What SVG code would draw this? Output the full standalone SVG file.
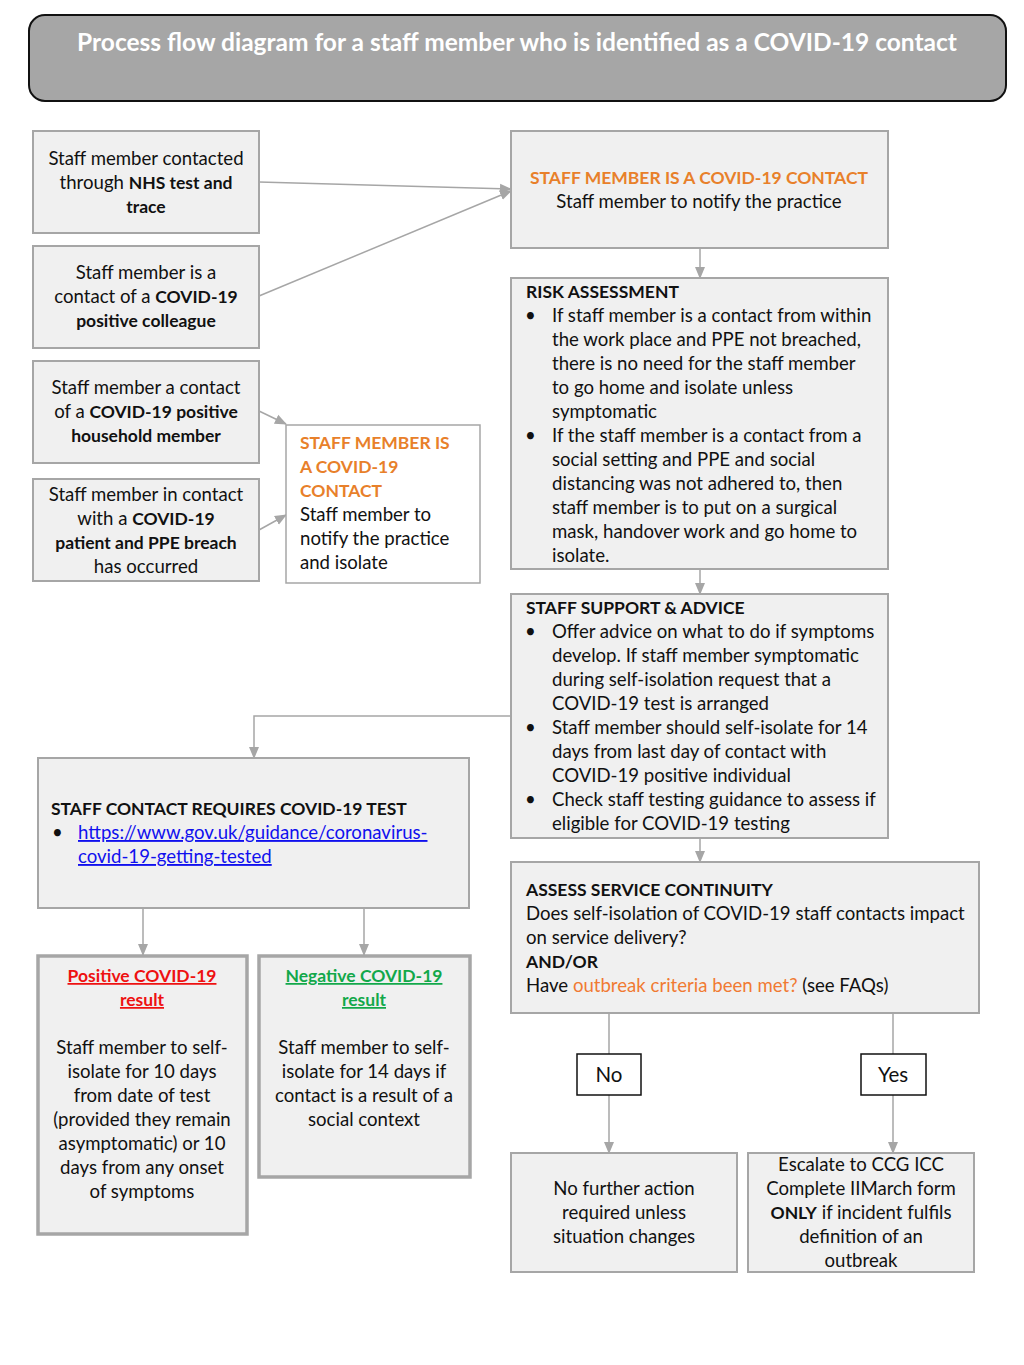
<svg xmlns="http://www.w3.org/2000/svg" width="1024" height="1365" viewBox="0 0 1024 1365">
<style>
text{font-family:Lato,"Open Sans","Liberation Sans",sans-serif;font-size:18.6px;fill:#111}
.c{text-anchor:middle}
.b{font-weight:bold;font-size:17.5px}
.or{fill:#e8802a;font-weight:bold;font-size:17.5px}
.box{fill:#f0f0f0;stroke:#a6a6a6;stroke-width:2}
.wbox{fill:#fff;stroke:#a6a6a6;stroke-width:1.5}
.thick{fill:#f0f0f0;stroke:#a6a6a6;stroke-width:3.5}
.yn{fill:#fff;stroke:#111;stroke-width:1.5}
.con{stroke:#a6a6a6;stroke-width:1.5;fill:none}
.arr{marker-end:url(#ah)}
</style>
<defs>
<marker id="ah" markerUnits="userSpaceOnUse" markerWidth="12" markerHeight="12" refX="11" refY="6" orient="auto" viewBox="0 0 12 12">
<path d="M0,1 L12,6 L0,11 z" fill="#a6a6a6"/>
</marker>
</defs>
<rect width="1024" height="1365" fill="#fff"/>

<g id="header">
<rect x="29" y="15" width="977" height="86" rx="16" fill="#a6a6a6" stroke="#111" stroke-width="2"/>
<text x="517" y="51" class="c" style="fill:#fff;font-size:24.5px;font-weight:bold">Process flow diagram for a staff member who is identified as a COVID-19 contact</text>
</g>

<g id="connectors">
<path class="con arr" d="M259,182 L511,189"/>
<path class="con arr" d="M259,296 L511,191"/>
<path class="con arr" d="M259,411 L286,424"/>
<path class="con arr" d="M259,530 L286,515"/>
<path class="con arr" d="M700,248 L700,278"/>
<path class="con arr" d="M700,569 L700,594"/>
<path class="con arr" d="M511,716 L254,716 L254,758"/>
<path class="con arr" d="M143,908 L143,955"/>
<path class="con arr" d="M364,908 L364,955"/>
<path class="con arr" d="M700,838 L700,862"/>
<path class="con" d="M609,1013 L609,1054"/>
<path class="con arr" d="M609,1095 L609,1153"/>
<path class="con" d="M893,1013 L893,1054"/>
<path class="con arr" d="M893,1095 L893,1153"/>
</g>

<g id="nhs-test-trace">
<rect class="box" x="33" y="131" width="226" height="102"/>
<text x="146" y="165" class="c">Staff member contacted</text>
<text x="146" y="189" class="c">through <tspan class="b">NHS test and</tspan></text>
<text x="146" y="213" class="c b">trace</text>
</g>

<g id="positive-colleague">
<rect class="box" x="33" y="246" width="226" height="102"/>
<text x="146" y="279" class="c">Staff member is a</text>
<text x="146" y="303" class="c">contact of a <tspan class="b">COVID-19</tspan></text>
<text x="146" y="327" class="c b">positive colleague</text>
</g>

<g id="household-member">
<rect class="box" x="33" y="361" width="226" height="102"/>
<text x="146" y="394" class="c">Staff member a contact</text>
<text x="146" y="418" class="c">of a <tspan class="b">COVID-19 positive</tspan></text>
<text x="146" y="442" class="c b">household member</text>
</g>

<g id="patient-ppe-breach">
<rect class="box" x="33" y="479" width="226" height="102"/>
<text x="146" y="501" class="c">Staff member in contact</text>
<text x="146" y="525" class="c">with a <tspan class="b">COVID-19</tspan></text>
<text x="146" y="549" class="c b">patient and PPE breach</text>
<text x="146" y="573" class="c">has occurred</text>
</g>

<g id="contact-isolate">
<rect class="wbox" x="286" y="425" width="194" height="158"/>
<text x="300" y="449" class="or">STAFF MEMBER IS</text>
<text x="300" y="473" class="or">A COVID-19</text>
<text x="300" y="497" class="or">CONTACT</text>
<text x="300" y="521">Staff member to</text>
<text x="300" y="545">notify the practice</text>
<text x="300" y="569">and isolate</text>
</g>

<g id="contact-notify">
<rect class="box" x="511" y="131" width="377" height="117"/>
<text x="699" y="184" class="c or">STAFF MEMBER IS A COVID-19 CONTACT</text>
<text x="699" y="208" class="c">Staff member to notify the practice</text>
</g>

<g id="risk-assessment">
<rect class="box" x="511" y="278" width="377" height="291"/>
<text x="526" y="298" class="b">RISK ASSESSMENT</text>
<text x="525" y="322">•</text>
<text x="552" y="322">If staff member is a contact from within</text>
<text x="552" y="346">the work place and PPE not breached,</text>
<text x="552" y="370">there is no need for the staff member</text>
<text x="552" y="394">to go home and isolate unless</text>
<text x="552" y="418">symptomatic</text>
<text x="525" y="442">•</text>
<text x="552" y="442">If the staff member is a contact from a</text>
<text x="552" y="466">social setting and PPE and social</text>
<text x="552" y="490">distancing was not adhered to, then</text>
<text x="552" y="514">staff member is to put on a surgical</text>
<text x="552" y="538">mask, handover work and go home to</text>
<text x="552" y="562">isolate.</text>
</g>

<g id="support-advice">
<rect class="box" x="511" y="594" width="377" height="244"/>
<text x="526" y="614" class="b">STAFF SUPPORT &amp; ADVICE</text>
<text x="525" y="638">•</text>
<text x="552" y="638">Offer advice on what to do if symptoms</text>
<text x="552" y="662">develop. If staff member symptomatic</text>
<text x="552" y="686">during self-isolation request that a</text>
<text x="552" y="710">COVID-19 test is arranged</text>
<text x="525" y="734">•</text>
<text x="552" y="734">Staff member should self-isolate for 14</text>
<text x="552" y="758">days from last day of contact with</text>
<text x="552" y="782">COVID-19 positive individual</text>
<text x="525" y="806">•</text>
<text x="552" y="806">Check staff testing guidance to assess if</text>
<text x="552" y="830">eligible for COVID-19 testing</text>
</g>

<g id="requires-test">
<rect class="box" x="38" y="758" width="431" height="150"/>
<text x="51" y="815" class="b">STAFF CONTACT REQUIRES COVID-19 TEST</text>
<text x="52" y="839">•</text>
<text x="78" y="839" style="fill:#1010ee;text-decoration:underline">https://www.gov.uk/guidance/coronavirus-</text>
<text x="78" y="863" style="fill:#1010ee;text-decoration:underline">covid-19-getting-tested</text>
</g>

<g id="positive-result">
<rect class="thick" x="38" y="956" width="209" height="278"/>
<text x="142" y="982" class="c b" style="fill:#ee1111;text-decoration:underline">Positive COVID-19</text>
<text x="142" y="1006" class="c b" style="fill:#ee1111;text-decoration:underline">result</text>
<text x="142" y="1054" class="c">Staff member to self-</text>
<text x="142" y="1078" class="c">isolate for 10 days</text>
<text x="142" y="1102" class="c">from date of test</text>
<text x="142" y="1126" class="c">(provided they remain</text>
<text x="142" y="1150" class="c">asymptomatic) or 10</text>
<text x="142" y="1174" class="c">days from any onset</text>
<text x="142" y="1198" class="c">of symptoms</text>
</g>

<g id="negative-result">
<rect class="thick" x="259" y="956" width="211" height="221"/>
<text x="364" y="982" class="c b" style="fill:#12a84a;text-decoration:underline">Negative COVID-19</text>
<text x="364" y="1006" class="c b" style="fill:#12a84a;text-decoration:underline">result</text>
<text x="364" y="1054" class="c">Staff member to self-</text>
<text x="364" y="1078" class="c">isolate for 14 days if</text>
<text x="364" y="1102" class="c">contact is a result of a</text>
<text x="364" y="1126" class="c">social context</text>
</g>

<g id="service-continuity">
<rect class="box" x="511" y="862" width="468" height="151"/>
<text x="526" y="896" class="b">ASSESS SERVICE CONTINUITY</text>
<text x="526" y="920">Does self-isolation of COVID-19 staff contacts impact</text>
<text x="526" y="944">on service delivery?</text>
<text x="526" y="968" class="b">AND/OR</text>
<text x="526" y="992">Have <tspan style="fill:#f07a32">outbreak criteria been met?</tspan> (see FAQs)</text>
</g>

<g id="no">
<rect class="yn" x="577" y="1054" width="64" height="41"/>
<text x="609" y="1082" class="c" style="font-size:20.5px">No</text>
</g>

<g id="yes">
<rect class="yn" x="861" y="1054" width="65" height="41"/>
<text x="893" y="1082" class="c" style="font-size:20.5px">Yes</text>
</g>

<g id="no-further-action">
<rect class="box" x="511" y="1153" width="226" height="119"/>
<text x="624" y="1195" class="c">No further action</text>
<text x="624" y="1219" class="c">required unless</text>
<text x="624" y="1243" class="c">situation changes</text>
</g>

<g id="escalate">
<rect class="box" x="748" y="1153" width="226" height="119"/>
<text x="861" y="1171" class="c">Escalate to CCG ICC</text>
<text x="861" y="1195" class="c">Complete IIMarch form</text>
<text x="861" y="1219" class="c"><tspan class="b">ONLY</tspan> if incident fulfils</text>
<text x="861" y="1243" class="c">definition of an</text>
<text x="861" y="1267" class="c">outbreak</text>
</g>
</svg>
